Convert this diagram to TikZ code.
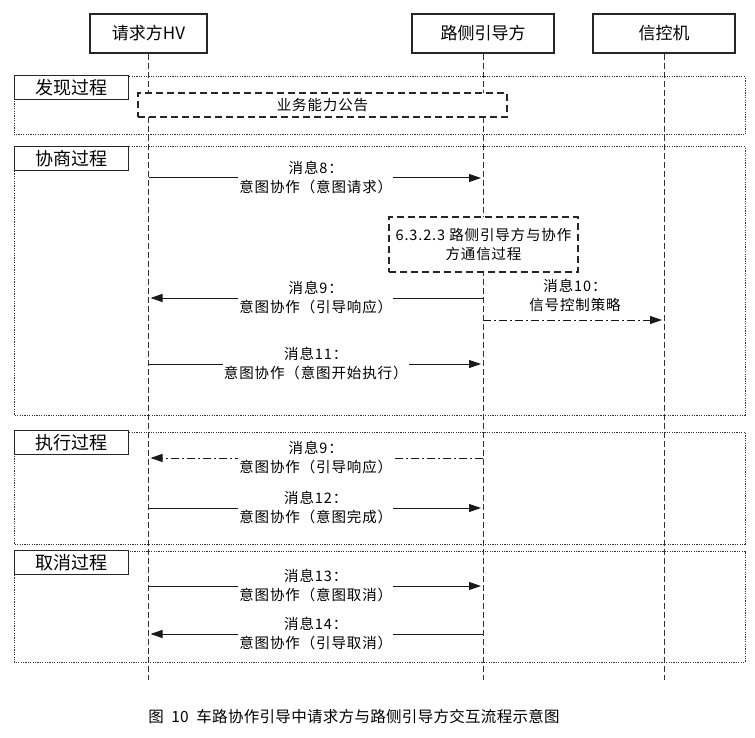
\documentclass[tikz,border=0pt]{standalone}
\usepackage{fontspec}
\setmainfont{Noto Sans CJK SC}
\newfontfamily\msgfont[LetterSpace=6]{Noto Sans CJK SC}
\newfontfamily\capfont[LetterSpace=2]{Noto Sans CJK SC}
\usetikzlibrary{arrows.meta,positioning}

\tikzset{
  actor/.style={draw=black!85, line width=1.2pt, minimum width=142pt, minimum height=39pt,
    inner sep=0pt, font=\fontsize{17}{20}\selectfont},
  lifeline/.style={draw=black!80, line width=1pt, dash pattern=on 6pt off 3pt},
  phase/.style={draw=black!80, line width=1pt, dash pattern=on 1.2pt off 1.2pt},
  phaselabel/.style={draw=black!85, fill=white, line width=1.2pt, anchor=north west,
    minimum width=114pt, minimum height=24pt, inner sep=0pt, font=\fontsize{18}{20}\selectfont},
  note/.style={draw=black!85, fill=white, line width=1.2pt, dash pattern=on 7pt off 4pt,
    inner sep=0pt, align=center, font=\msgfont\fontsize{14.5}{19}\selectfont},
  msg/.style={draw=black!90, line width=1pt, -{Triangle[length=12pt,width=8pt]}, shorten >=2pt},
  dashdot/.style={dash pattern=on 8pt off 3pt on 2pt off 3pt},
  msglabel/.style={fill=white, align=center, inner sep=1pt, font=\msgfont\fontsize{14.5}{19}\selectfont}
}

\begin{document}
\begin{tikzpicture}[x=1pt,y=-1pt]
  \useasboundingbox (0,0) rectangle (755,738);

  % participants
  \node[actor, minimum width=117pt] (hv) at (148.5,33.5) {请求方HV};
  \node[actor] (rs) at (483,33.5) {路侧引导方};
  \node[actor] (sc) at (664,33.5) {信控机};

  % lifelines
  \foreach \p in {hv,rs,sc} {
    \coordinate (\p end) at (\p.south |- 0,680);
    \draw[lifeline] (\p.south) -- (\p end);
  }

  % phases
  \draw[phase] (14,77) rectangle (745,135);
  \node[phaselabel] (discover) at (14,75) {发现过程};
  \draw[phase] (14,147) rectangle (745,415);
  \node[phaselabel] (negotiate) at (14,146) {协商过程};
  \draw[phase] (14,432) rectangle (745,544);
  \node[phaselabel] (execute) at (14,430) {执行过程};
  \draw[phase] (14,551) rectangle (745,662);
  \node[phaselabel] (cancel) at (14,550) {取消过程};

  % notes
  \node[note, minimum width=369pt, minimum height=24pt] (ability) at (322.5,105) {业务能力公告};
  \node[note, minimum width=189pt, minimum height=55pt] (comm) at (483.5,244.5)
    {6.3.2.3 路侧引导方与协作\\方通信过程};

  % messages
  \foreach \y/\a/\b/\st/\txt in {
      178/hv/rs/solid/{消息8：\\意图协作（意图请求）},
      298/rs/hv/solid/{消息9：\\意图协作（引导响应）},
      364/hv/rs/solid/{消息11：\\意图协作（意图开始执行）},
      458/rs/hv/dashdot/{消息9：\\意图协作（引导响应）},
      508/hv/rs/solid/{消息12：\\意图协作（意图完成）},
      586/hv/rs/solid/{消息13：\\意图协作（意图取消）},
      634/rs/hv/solid/{消息14：\\意图协作（引导取消）}} {
    \coordinate (m\y a) at (\a.south |- 0,\y);
    \coordinate (m\y b) at (\b.south |- 0,\y);
    \draw[msg, \st] (m\y a) -- node[msglabel, solid] (l\y) {\txt} (m\y b);
  }

  % signal strategy
  \coordinate (m320a) at (rs.south |- 0,320);
  \coordinate (m320b) at (sc.south |- 0,320);
  \draw[msg, dashdot] (m320a) -- (m320b);
  \node[msglabel, fill=none] (l320) at (575,295) {消息10：\\信号控制策略};

  % caption
  \node[font=\capfont\fontsize{15.5}{18}\selectfont] (caption) at (354,717)
    {图\ \ 10\ \ 车路协作引导中请求方与路侧引导方交互流程示意图};
\end{tikzpicture}
\end{document}
